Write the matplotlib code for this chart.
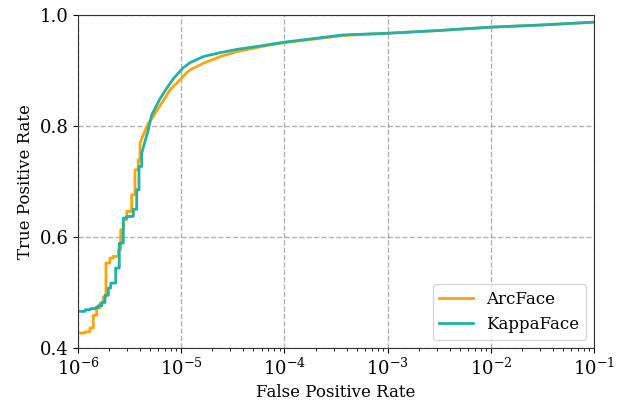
import numpy as np
import matplotlib
matplotlib.use("Agg")
import matplotlib.pyplot as plt

plt.rcParams['font.family'] = 'DejaVu Serif'
plt.rcParams['mathtext.fontset'] = 'dejavuserif'

# ROC points (log10 of FPR, TPR)
arc_log_fpr = [-6.0, -5.932, -5.884, -5.852, -5.819, -5.787, -5.755, -5.729, -5.690,
               -5.658, -5.609, -5.586, -5.561, -5.528, -5.480, -5.448, -5.416, -5.399,
               -5.367, -5.319, -5.270, -5.222, -5.157, -5.109, -5.012, -4.947, -4.915,
               -4.786, -4.62, -4.46, -4.14, -4.0, -3.43, -3.0, -2.5, -2.0, -1.5, -1.0]
arc_tpr = [0.427, 0.429, 0.436, 0.459, 0.472, 0.481, 0.492, 0.553, 0.562,
           0.565, 0.577, 0.613, 0.631, 0.646, 0.676, 0.721, 0.739, 0.769,
           0.784, 0.805, 0.817, 0.832, 0.850, 0.865, 0.883, 0.896, 0.901,
           0.913, 0.925, 0.934, 0.946, 0.950, 0.963, 0.967, 0.972, 0.978, 0.982, 0.987]

kappa_log_fpr = [-6.0, -5.93, -5.88, -5.83, -5.806, -5.770, -5.738, -5.706, -5.683,
                 -5.635, -5.600, -5.561, -5.528, -5.464, -5.431, -5.409, -5.383, -5.319,
                 -5.286, -5.244, -5.212, -5.141, -5.077, -4.98, -4.915, -4.786, -4.624,
                 -4.46, -4.236, -4.0, -3.43, -3.0, -2.5, -2.0, -1.5, -1.0]
kappa_tpr = [0.466, 0.469, 0.471, 0.473, 0.476, 0.482, 0.495, 0.508, 0.517,
             0.544, 0.589, 0.634, 0.637, 0.650, 0.685, 0.727, 0.751, 0.793,
             0.820, 0.835, 0.847, 0.868, 0.885, 0.905, 0.914, 0.925, 0.932,
             0.938, 0.944, 0.951, 0.964, 0.967, 0.972, 0.978, 0.982, 0.987]


def roc_path(log_fpr, tpr, step_until=-5.38):
    # staircase at low FPR (few samples), smooth line after that
    xs, ys = [], []
    for i in range(len(log_fpr)):
        xs.append(log_fpr[i])
        ys.append(tpr[i])
        if i + 1 < len(log_fpr) and log_fpr[i + 1] <= step_until:
            xs.append(log_fpr[i + 1])
            ys.append(tpr[i])
    return np.power(10.0, xs), ys


fig = plt.figure(figsize=(6.26, 4.04), dpi=100)
ax = fig.add_axes([0.1246, 0.1386, 0.8244, 0.8244])

x, y = roc_path(arc_log_fpr, arc_tpr)
ax.plot(x, y, color='orange', lw=2, label='ArcFace')
x, y = roc_path(kappa_log_fpr, kappa_tpr)
ax.plot(x, y, color='lightseagreen', lw=2, label='KappaFace')

ax.set_xscale('log')
ax.set_xlim(1e-6, 1e-1)
ax.set_ylim(0.4, 1.0)
ax.set_yticks([0.4, 0.6, 0.8, 1.0])
ax.grid(True, which='major', linestyle='--', color='gray', alpha=0.6, lw=1)
ax.tick_params(labelsize=13)
for s in ax.spines.values():
    s.set_color('#333333')
ax.set_xlabel('False Positive Rate', fontsize=12)
ax.set_ylabel('True Positive Rate', fontsize=12)
ax.legend(loc='lower right', fontsize=12)

fig.savefig('out.png', dpi=100)
